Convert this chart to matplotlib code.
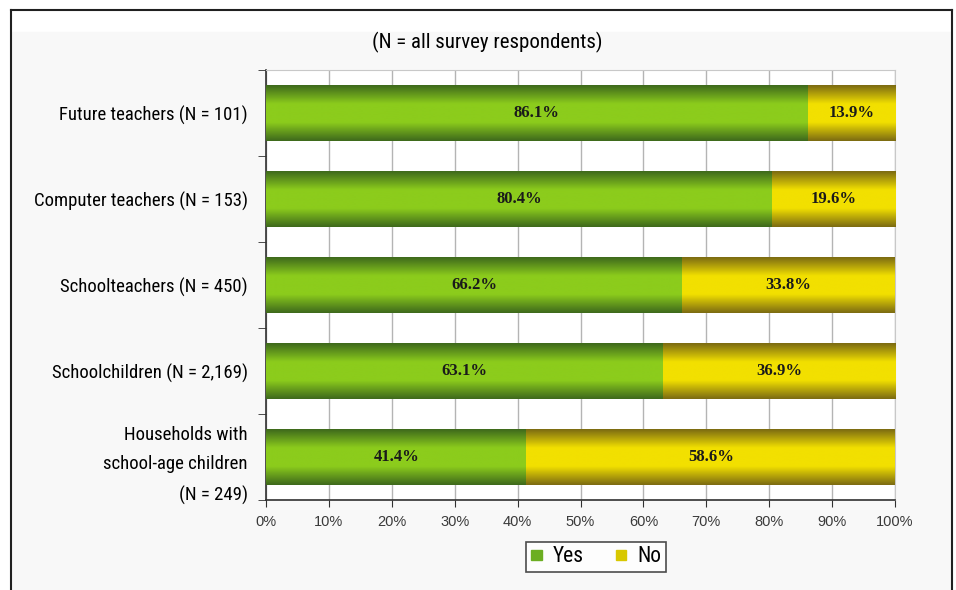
import numpy as np
import matplotlib
matplotlib.use("Agg")
import matplotlib.pyplot as plt
from matplotlib import font_manager
from matplotlib.colors import LinearSegmentedColormap
from matplotlib.patches import Rectangle
from matplotlib.lines import Line2D
from matplotlib.ticker import FixedLocator, PercentFormatter

# Données : part de réponses Oui / Non par groupe
groupes = ["Future teachers (N = 101)",
           "Computer teachers (N = 153)",
           "Schoolteachers (N = 450)",
           "Schoolchildren (N = 2,169)",
           "Households with\nschool-age children\n(N = 249)"]
oui = [86.1, 80.4, 66.2, 63.1, 41.4]
non = [13.9, 19.6, 33.8, 36.9, 58.6]
titre = "(N = all survey respondents)"

# police étroite si disponible
dispo = {f.name for f in font_manager.fontManager.ttflist}
etroites = [n for n in ["Liberation Sans Narrow", "Arial Narrow",
                        "Roboto Condensed", "Open Sans Condensed"] if n in dispo]
narrow = etroites + ["Liberation Sans", "DejaVu Sans"]
serif = ["Liberation Serif", "DejaVu Serif"]
sans = ["Liberation Sans", "DejaVu Sans"]
taille = 13.5 if etroites else 11

vert = ("#3f6a1c", "#8ccc1c")
jaune = ("#7d6c12", "#f2e000")

fig = plt.figure(figsize=(9.56, 5.9), dpi=100)

# cadre extérieur et fond gris clair
fig.patches.append(Rectangle((12 / 956, 0), 939 / 956, 1 - 32 / 590,
                             transform=fig.transFigure, color="#f8f8f8",
                             zorder=-10))
for xs, ys in [([11 / 956, 11 / 956], [0, 1 - 10 / 590]),
               ([11 / 956, 952 / 956], [1 - 10 / 590, 1 - 10 / 590]),
               ([952 / 956, 952 / 956], [0, 1 - 10 / 590])]:
    fig.add_artist(Line2D(xs, ys, transform=fig.transFigure,
                          color="#202020", lw=1.5))

ax = fig.add_axes([266 / 956, 1 - 500 / 590, 629 / 956, 430 / 590])
ax.set_facecolor("white")

y = np.arange(len(groupes))
h = 0.64
b1 = ax.barh(y, oui, height=h, color=vert[1], zorder=2)
b2 = ax.barh(y, non, left=oui, height=h, color=jaune[1], zorder=2)


def degrade(barres, couleurs):
    cmap = LinearSegmentedColormap.from_list(
        "d", [couleurs[0], couleurs[1], couleurs[1], couleurs[0]])
    grad = np.linspace(0, 1, 64).reshape(-1, 1)
    for p in barres:
        x0, y0 = p.get_x(), p.get_y()
        im = ax.imshow(grad, cmap=cmap, aspect="auto", zorder=3,
                       extent=(x0, x0 + p.get_width(), y0, y0 + p.get_height()),
                       interpolation="bicubic")
        im.set_clip_path(p)


degrade(b1, vert)
degrade(b2, jaune)

for i in range(len(groupes)):
    ax.text(oui[i] / 2, y[i], f"{oui[i]:.1f}%", ha="center", va="center",
            family=serif, weight="bold", fontsize=12, color="#1a1a1a",
            zorder=5)
    ax.text(oui[i] + non[i] / 2, y[i], f"{non[i]:.1f}%", ha="center",
            va="center", family=serif, weight="bold", fontsize=12,
            color="#1a1a1a", zorder=5)

ax.set_xlim(0, 100)
ax.set_ylim(len(groupes) - 0.5, -0.5)
ax.set_xticks(np.arange(0, 101, 10))
ax.xaxis.set_major_formatter(PercentFormatter(decimals=0))
ax.grid(axis="x", color="#b4b4b4", lw=1, zorder=1)
ax.set_axisbelow(True)

ax.set_yticks(y)
ax.set_yticklabels(groupes, family=narrow, fontsize=taille, ha="right",
                   multialignment="right", linespacing=1.85)
ax.yaxis.set_minor_locator(FixedLocator(np.arange(-0.5, len(groupes), 1)))
ax.tick_params(axis="y", which="major", length=0, pad=13)
ax.tick_params(axis="y", which="minor", length=6, color="#303030")
ax.tick_params(axis="x", length=5, color="#303030", labelsize=10.5,
               labelcolor="#3a3a3a", pad=6)
for t in ax.get_xticklabels():
    t.set_family(sans)

for s in ["left", "bottom"]:
    ax.spines[s].set_color("#303030")
    ax.spines[s].set_linewidth(1.2)
for s in ["top", "right"]:
    ax.spines[s].set_color("#c8c8c8")

fig.text(487 / 956, 1 - 42 / 590, titre, ha="center", va="center",
         family=narrow, fontsize=taille + 1.5)

leg = ax.legend([b1, b2], ["Yes", "No"], loc="center",
                bbox_to_anchor=(596 / 956, 1 - 557 / 590),
                bbox_transform=fig.transFigure, ncol=2, frameon=True,
                fancybox=False, edgecolor="#202020",
                prop={"family": narrow, "size": taille + 2},
                handlelength=0.5, handleheight=0.35, handletextpad=0.5,
                columnspacing=1.5, borderpad=0.22, borderaxespad=0)
leg.get_frame().set_linewidth(1.2)
leg.legend_handles[0].set_color("#6cae22")
leg.legend_handles[1].set_color("#d8c800")

fig.savefig("out.png", dpi=100)
